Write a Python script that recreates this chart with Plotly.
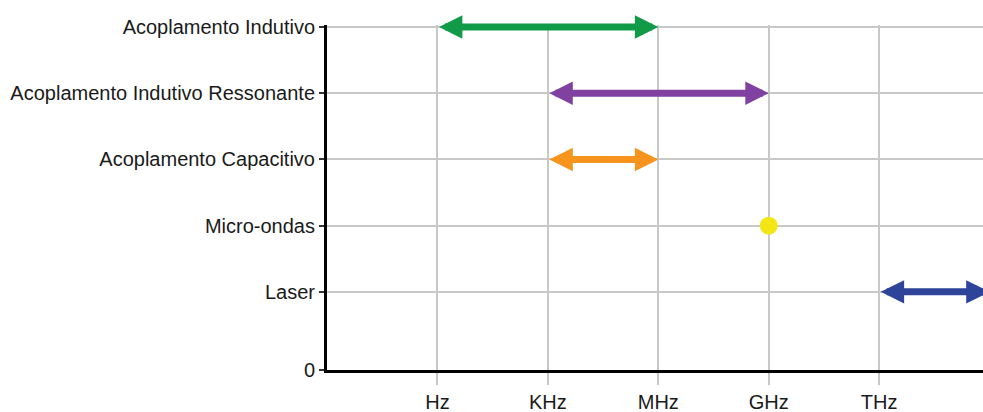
import plotly.graph_objects as go

# Data
categories = ["Laser", "Micro-ondas", "Acoplamento Capacitivo",
              "Acoplamento Indutivo Ressonante", "Acoplamento Indutivo"]
cat_levels = [1.18, 2.18, 3.18, 4.18, 5.18]
freq_labels = ["Hz", "KHz", "MHz", "GHz", "THz"]
freq_levels = [1, 2, 3, 4, 5]

# ranges: (category, start level, end level, colour)
ranges = [
    ("Acoplamento Indutivo", 1, 3, "#119B48"),
    ("Acoplamento Indutivo Ressonante", 2, 4, "#8041A0"),
    ("Acoplamento Capacitivo", 2, 3, "#F7941D"),
    ("Laser", 5, 6, "#2E449B"),
]
points = [("Micro-ondas", 4, "#F4E514")]

cat_pos = dict(zip(categories, cat_levels))

fig = go.Figure()

# invisible trace to set up axes
fig.add_trace(go.Scatter(x=[0], y=[0], mode="markers",
                         marker=dict(opacity=0), showlegend=False, hoverinfo="skip"))

for cat, x0, x1, col in ranges:
    y = cat_pos[cat]
    fig.add_annotation(x=x1, y=y, ax=x0, ay=y, xref="x", yref="y",
                       axref="x", ayref="y", text="", showarrow=True,
                       arrowside="end+start", arrowhead=2, startarrowhead=2,
                       arrowsize=0.67, startarrowsize=0.67, arrowwidth=7,
                       arrowcolor=col)

for cat, xv, col in points:
    fig.add_trace(go.Scatter(x=[xv], y=[cat_pos[cat]], mode="markers",
                             marker=dict(size=18, color=col), showlegend=False,
                             cliponaxis=False))

fig.update_layout(
    width=983, height=412,
    margin=dict(l=327, r=0, t=25, b=42),
    plot_bgcolor="white", paper_bgcolor="white",
    font=dict(family="Liberation Sans, Arial, sans-serif", size=20, color="#1a1a1a"),
    showlegend=False,
    xaxis=dict(range=[0, 5.94], tickvals=freq_levels, ticktext=freq_labels,
               showgrid=True, gridcolor="#C8C8C8", gridwidth=2,
               ticks="outside", ticklen=12, tickwidth=2, tickcolor="#C8C8C8",
               showline=True, linecolor="black", linewidth=3, zeroline=False,
               automargin=False),
    yaxis=dict(range=[0, 5.21], tickvals=[0] + cat_levels,
               ticktext=["0"] + categories,
               showgrid=True, gridcolor="#C8C8C8", gridwidth=2,
               ticks="outside", ticklen=5, tickwidth=2, tickcolor="#333333",
               showline=True, linecolor="black", linewidth=3, zeroline=False,
               automargin=False),
)

fig.write_html("out.html", config={"displayModeBar": False},
               post_script="document.body.style.margin='0';document.body.style.overflow='hidden';")
